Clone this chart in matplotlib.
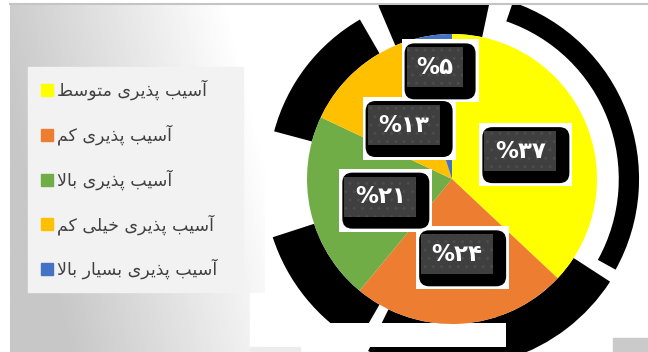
import numpy as np
import matplotlib
matplotlib.use("Agg")
import matplotlib.pyplot as plt
from matplotlib.patches import Wedge, Rectangle, FancyBboxPatch

# vulnerability classes, clockwise from 12 o'clock
categories = ["آسیب پذیری متوسط", "آسیب پذیری کم", "آسیب پذیری بالا",
              "آسیب پذیری خیلی کم", "آسیب پذیری بسیار بالا"]
shares = [37, 24, 21, 13, 5]
colors = ["#FFFF00", "#ED7D31", "#70AD47", "#FFC000", "#4472C4"]
# distance of each percentage label from the centre (pie radius = 1)
label_dist = [0.51, 0.51, 0.51, 0.51, 0.79]

FA_DIGITS = str.maketrans("0123456789", "۰۱۲۳۴۵۶۷۸۹")

# presentation forms: isolated, final, initial, medial
JOIN = {
    "آ": ("\uFE81", "\uFE82", None, None),
    "ا": ("\uFE8D", "\uFE8E", None, None),
    "ب": ("\uFE8F", "\uFE90", "\uFE91", "\uFE92"),
    "پ": ("\uFB56", "\uFB57", "\uFB58", "\uFB59"),
    "ت": ("\uFE95", "\uFE96", "\uFE97", "\uFE98"),
    "خ": ("\uFEA5", "\uFEA6", "\uFEA7", "\uFEA8"),
    "ذ": ("\uFEAB", "\uFEAC", None, None),
    "ر": ("\uFEAD", "\uFEAE", None, None),
    "س": ("\uFEB1", "\uFEB2", "\uFEB3", "\uFEB4"),
    "ط": ("\uFEC1", "\uFEC2", "\uFEC3", "\uFEC4"),
    "ل": ("\uFEDD", "\uFEDE", "\uFEDF", "\uFEE0"),
    "م": ("\uFEE1", "\uFEE2", "\uFEE3", "\uFEE4"),
    "و": ("\uFEED", "\uFEEE", None, None),
    "ک": ("\uFB8E", "\uFB8F", "\uFB90", "\uFB91"),
    "ی": ("\uFBFC", "\uFBFD", "\uFBFE", "\uFBFF"),
}
LAM_ALEF = {"ا": ("\uFEFB", "\uFEFC"), "آ": ("\uFEF5", "\uFEF6")}


def farsi(text):
    """join the letters by hand and flip to visual order (no bidi in mpl)"""
    def joins_next(c):
        return c in JOIN and JOIN[c][2] is not None
    out = []
    prev = None
    i = 0
    while i < len(text):
        c = text[i]
        if c not in JOIN:
            out.append(c)
            prev = None
            i += 1
            continue
        after = prev is not None and joins_next(prev)
        if c == "ل" and i + 1 < len(text) and text[i + 1] in LAM_ALEF:
            iso, fin = LAM_ALEF[text[i + 1]]
            out.append(fin if after else iso)
            prev = text[i + 1]
            i += 2
            continue
        nxt = text[i + 1] if i + 1 < len(text) else None
        to_next = joins_next(c) and nxt in JOIN
        iso, fin, ini, med = JOIN[c]
        if after and to_next:
            out.append(med)
        elif after:
            out.append(fin)
        elif to_next:
            out.append(ini)
        else:
            out.append(iso)
        prev = c
        i += 1
    return "".join(reversed(out))


plt.rcParams["font.family"] = ["DejaVu Sans"]

W, H = 648, 352
fig = plt.figure(figsize=(W / 100, H / 100), dpi=100)
fig.patch.set_facecolor("white")

# ---- background layer, in pixel units
bg = fig.add_axes([0, 0, 1, 1])
bg.set_xlim(0, W)
bg.set_ylim(H, 0)
bg.axis("off")

gx = np.linspace(0, 1, 256)
gy = np.linspace(0, 1, 256)
GX, GY = np.meshgrid(gx, gy)
shade = 0.78 + 0.22 * np.clip(GX * 1.05 - 0.35 * GY + 0.1, 0, 1)
bg.imshow(shade, cmap="gray", vmin=0, vmax=1, extent=[10, 265, 352, 5],
          aspect="auto", interpolation="bilinear", zorder=0)
bg.add_patch(Rectangle((250, 293), 15, 54, color="white", zorder=1))
bg.add_patch(Rectangle((250, 347), 50, 5, color="#ececec", zorder=1))
bg.plot([10, W], [4, 4], color="#c4c4c4", lw=1.5, zorder=2)
bg.add_patch(Rectangle((613, 338), 35, 14, color="#cacaca", zorder=2))

# legend block
bg.add_patch(Rectangle((28, 67), 215, 225, color="#f2f2f2", zorder=2))
for i, (name, col) in enumerate(zip(categories, colors)):
    yc = 90 + 44.8 * i
    bg.add_patch(Rectangle((41, yc - 6), 12, 12, color=col, zorder=3))
    bg.text(57, yc, farsi(name), fontsize=12.5, color="#404040",
            ha="left", va="center", zorder=4)

# ---- pie layer: centre at (452, 179) px, radius 145 px
R, CX, CY = 145.0, 452.0, 179.0
left, top = 265.0, 5.0
pax = fig.add_axes([left / W, 0, (W - left) / W, (H - top) / H])
pax.patch.set_visible(False)

wedges, _ = pax.pie(shares, colors=colors, startangle=90, counterclock=False,
                    radius=1, wedgeprops=dict(linewidth=0, zorder=2))
pax.set_aspect("auto")
pax.set_xlim((left - CX) / R, (W - CX) / R)
pax.set_ylim((CY - H) / R, (CY - top) / R)
pax.axis("off")

# black drop shadows around the rim
for t1, t2, ro, wd in [(-29, 71, 1.29, 0.14), (78, 113, 1.30, 0.30),
                       (120, 165, 1.27, 0.27), (198, 240, 1.30, 0.30),
                       (244, 290, 1.32, 0.32), (-72, -33, 1.30, 0.30)]:
    pax.add_patch(Wedge((0, 0), ro, t1, t2, width=wd, color="black",
                        lw=0, zorder=0.5))
pax.add_patch(Rectangle(((left - CX) / R, (CY - 347) / R),
                        (506 - left) / R, 24 / R, color="white", lw=0,
                        zorder=0.8))

# percentage labels
px = 1 / R
for w, v, d in zip(wedges, shares, label_dist):
    mid = np.deg2rad((w.theta1 + w.theta2) / 2)
    tx, ty = d * np.cos(mid), d * np.sin(mid)
    txt = "%" + str(v).translate(FA_DIGITS)
    bw = 61 + 16 * len(str(v))
    bh = 63
    # white frame, centred 6 px right / 5 px below the text
    x0 = tx + 6 * px - bw / 2 * px
    y0 = ty - 5 * px - bh / 2 * px
    pax.add_patch(Rectangle((x0, y0), bw * px, bh * px, color="white",
                            lw=0, zorder=3))
    pax.add_patch(FancyBboxPatch((x0 + 3 * px, y0 + 3 * px),
                                 (bw - 6) * px, (bh - 7) * px,
                                 boxstyle="round,pad=0,rounding_size=%f" % (10 * px),
                                 facecolor="black", lw=0, zorder=4))
    gw = bw - 21
    pax.add_patch(Rectangle((x0 + 5 * px, y0 + (bh - 48) * px), gw * px, 40 * px,
                            facecolor="#3f3f3f", edgecolor="#4c4c4c", hatch="..",
                            lw=0, zorder=5))
    pax.text(x0 + (5 + gw / 2) * px, y0 + (bh - 28) * px, txt, color="white",
             fontsize=16.5, fontweight="bold", ha="center", va="center", zorder=6)

fig.savefig("out.png", dpi=100)
